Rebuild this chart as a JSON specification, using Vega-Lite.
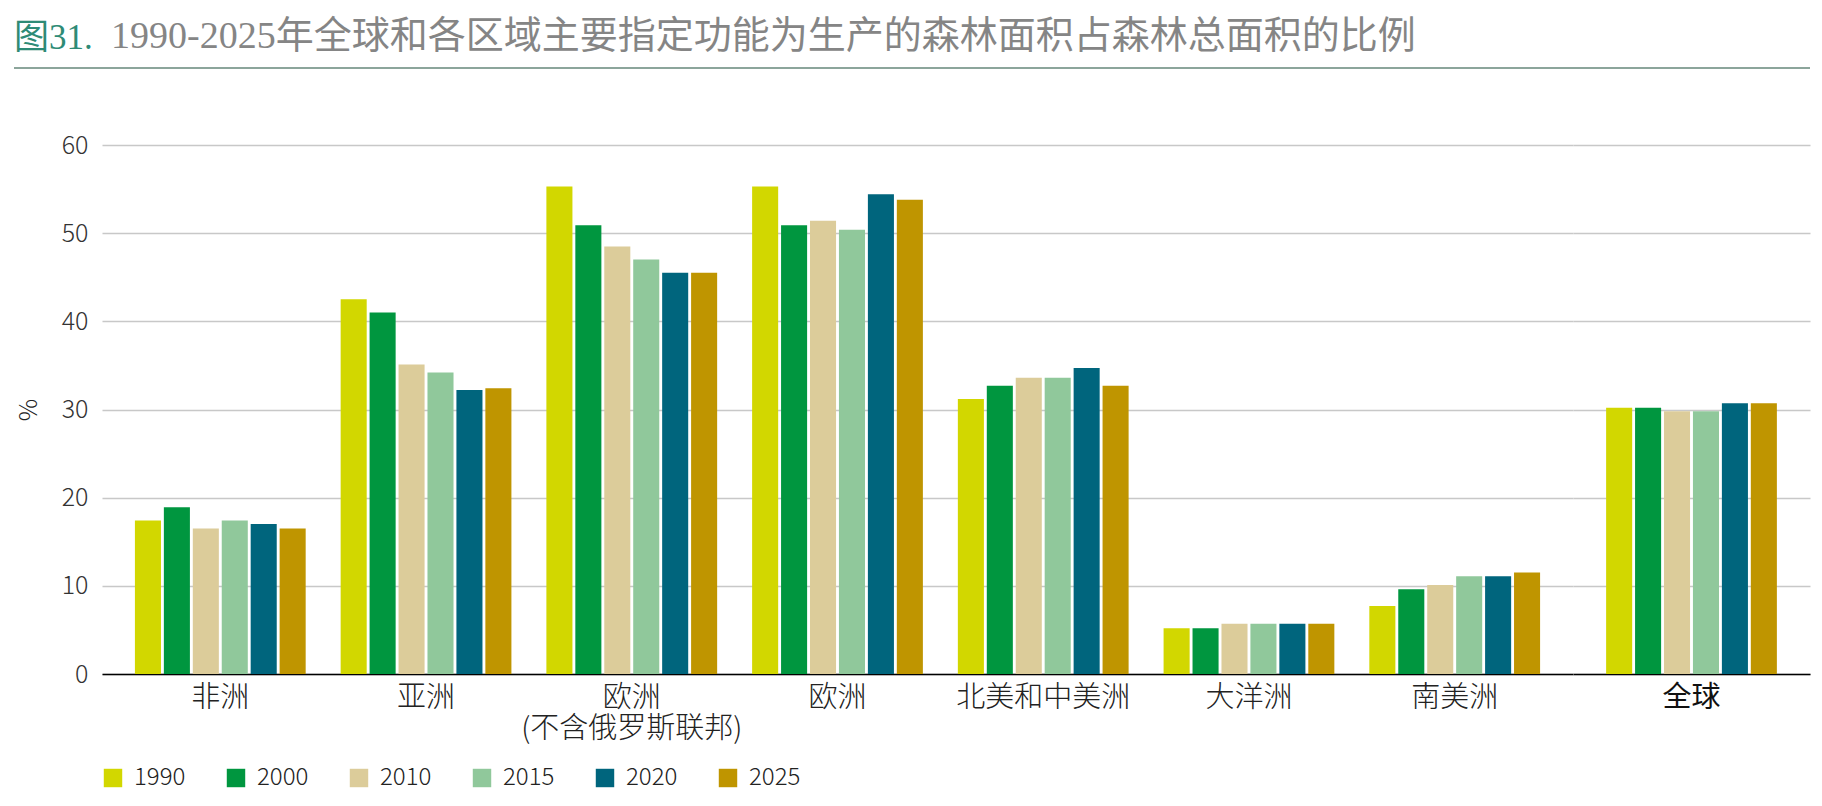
{
  "$schema": "https://vega.github.io/schema/vega-lite/v6.json",
  "padding": {"left": 14, "top": 18, "right": 12, "bottom": 10},
  "background": "white",
  "config": {
    "font": "Noto Sans CJK SC",
    "view": {"stroke": null},
    "title": {"font": "Liberation Serif, Noto Sans CJK SC", "fontWeight": "normal", "fontSize": 36, "anchor": "start", "offset": 11},
    "axis": {"labelFont": "Noto Sans CJK SC", "titleFont": "Noto Sans CJK SC"},
    "legend": {"labelFont": "Noto Sans CJK SC"}
  },
  "datasets": {
    "main": [
      {"region": "非洲", "year": "1990", "value": 17.4},
      {"region": "非洲", "year": "2000", "value": 18.9},
      {"region": "非洲", "year": "2010", "value": 16.5},
      {"region": "非洲", "year": "2015", "value": 17.4},
      {"region": "非洲", "year": "2020", "value": 17.0},
      {"region": "非洲", "year": "2025", "value": 16.5},
      {"region": "亚洲", "year": "1990", "value": 42.5},
      {"region": "亚洲", "year": "2000", "value": 41.0},
      {"region": "亚洲", "year": "2010", "value": 35.1},
      {"region": "亚洲", "year": "2015", "value": 34.2},
      {"region": "亚洲", "year": "2020", "value": 32.2},
      {"region": "亚洲", "year": "2025", "value": 32.4},
      {"region": "欧洲(不含俄罗斯联邦)", "year": "1990", "value": 55.3},
      {"region": "欧洲(不含俄罗斯联邦)", "year": "2000", "value": 50.9},
      {"region": "欧洲(不含俄罗斯联邦)", "year": "2010", "value": 48.5},
      {"region": "欧洲(不含俄罗斯联邦)", "year": "2015", "value": 47.0},
      {"region": "欧洲(不含俄罗斯联邦)", "year": "2020", "value": 45.5},
      {"region": "欧洲(不含俄罗斯联邦)", "year": "2025", "value": 45.5},
      {"region": "欧洲", "year": "1990", "value": 55.3},
      {"region": "欧洲", "year": "2000", "value": 50.9},
      {"region": "欧洲", "year": "2010", "value": 51.4},
      {"region": "欧洲", "year": "2015", "value": 50.4},
      {"region": "欧洲", "year": "2020", "value": 54.4},
      {"region": "欧洲", "year": "2025", "value": 53.8},
      {"region": "北美和中美洲", "year": "1990", "value": 31.2},
      {"region": "北美和中美洲", "year": "2000", "value": 32.7},
      {"region": "北美和中美洲", "year": "2010", "value": 33.6},
      {"region": "北美和中美洲", "year": "2015", "value": 33.6},
      {"region": "北美和中美洲", "year": "2020", "value": 34.7},
      {"region": "北美和中美洲", "year": "2025", "value": 32.7},
      {"region": "大洋洲", "year": "1990", "value": 5.2},
      {"region": "大洋洲", "year": "2000", "value": 5.2},
      {"region": "大洋洲", "year": "2010", "value": 5.7},
      {"region": "大洋洲", "year": "2015", "value": 5.7},
      {"region": "大洋洲", "year": "2020", "value": 5.7},
      {"region": "大洋洲", "year": "2025", "value": 5.7},
      {"region": "南美洲", "year": "1990", "value": 7.7},
      {"region": "南美洲", "year": "2000", "value": 9.6},
      {"region": "南美洲", "year": "2010", "value": 10.1},
      {"region": "南美洲", "year": "2015", "value": 11.1},
      {"region": "南美洲", "year": "2020", "value": 11.1},
      {"region": "南美洲", "year": "2025", "value": 11.5},
      {"region": "全球", "year": "1990", "value": 30.2},
      {"region": "全球", "year": "2000", "value": 30.2},
      {"region": "全球", "year": "2010", "value": 29.8},
      {"region": "全球", "year": "2015", "value": 29.8},
      {"region": "全球", "year": "2020", "value": 30.7},
      {"region": "全球", "year": "2025", "value": 30.7}
    ]
  },
  "spacing": 64,
  "vconcat": [
    {
      "spacing": 0,
      "bounds": "flush",
      "hconcat": [
        {
          "title": {"text": "图31.", "color": "#2e8b76", "fontSize": 35},
          "width": 97,
          "height": 2,
          "data": {"values": []},
          "mark": "rule",
          "encoding": {},
          "view": {"fill": "#8ca59b", "stroke": null}
        },
        {
          "title": {"text": "1990-2025年全球和各区域主要指定功能为生产的森林面积占森林总面积的比例", "color": "#858585", "fontSize": 38},
          "width": 1699,
          "height": 2,
          "data": {"values": []},
          "mark": "rule",
          "encoding": {},
          "view": {"fill": "#8ca59b", "stroke": null}
        }
      ]
    },
    {
      "spacing": 0,
      "resolve": {"scale": {"x": "independent", "xOffset": "independent", "y": "shared", "color": "shared"}},
      "hconcat": [
        {
          "width": 88,
          "height": 529,
          "data": {"name": "main"},
          "mark": {"type": "point", "opacity": 0},
          "encoding": {
            "y": {
              "field": "value", "type": "quantitative",
              "scale": {"domain": [0, 60], "nice": false},
              "axis": {
                "offset": -88,
                "title": "%", "titleFontSize": 25, "titleFontWeight": 300, "titleColor": "#222222", "titlePadding": 20,
                "values": [0, 10, 20, 30, 40, 50, 60],
                "domain": false, "ticks": false, "grid": false,
                "labelFontSize": 25, "labelFontWeight": 300, "labelColor": "#333333", "labelPadding": 14
              }
            }
          }
        },
        {
          "width": 1471,
          "height": 529,
          "data": {"name": "main"},
          "transform": [{"filter": "datum.region != '全球'"}],
          "mark": {"type": "bar"},
          "encoding": {
            "x": {
              "field": "region", "type": "nominal",
              "sort": ["非洲", "亚洲", "欧洲(不含俄罗斯联邦)", "欧洲", "北美和中美洲", "大洋洲", "南美洲"],
              "scale": {"paddingInner": 0.17, "paddingOuter": 0.16},
              "axis": {
                "title": null, "labelAngle": 0, "ticks": false, "grid": false,
                "domainColor": "#000000", "domainWidth": 1.6,
                "labelFontSize": 29, "labelFontWeight": 300, "labelColor": "#222222", "labelPadding": 9, "labelLineHeight": 31, "labelLimit": 400,
                "labelExpr": "datum.value == '欧洲(不含俄罗斯联邦)' ? ['欧洲', '(不含俄罗斯联邦)'] : datum.value"
              }
            },
            "xOffset": {"field": "year", "type": "nominal", "scale": {"paddingInner": 0.1, "paddingOuter": 0}},
            "y": {
              "field": "value", "type": "quantitative",
              "scale": {"domain": [0, 60], "nice": false},
              "axis": {
                "title": null, "labels": false, "domain": false, "ticks": false,
                "values": [0, 10, 20, 30, 40, 50, 60],
                "grid": true, "gridColor": "#c8c8c8", "gridWidth": 1.3, "minExtent": 0, "maxExtent": 0
              }
            },
            "color": {
              "field": "year", "type": "nominal",
              "scale": {"domain": ["1990", "2000", "2010", "2015", "2020", "2025"], "range": ["#d2d700", "#00963f", "#dccc9a", "#90c89b", "#00657d", "#bf9500"]},
              "legend": {
                "title": null, "orient": "none", "legendX": 87, "legendY": 699, "direction": "horizontal",
                "symbolType": "square", "symbolSize": 340, "symbolStrokeWidth": 0,
                "labelFontSize": 24, "labelFontWeight": 300, "labelColor": "#222222", "labelOffset": 9, "columnPadding": 38
              }
            }
          }
        },
        {
          "width": 237,
          "height": 529,
          "data": {"name": "main"},
          "transform": [{"filter": "datum.region == '全球'"}],
          "mark": {"type": "bar"},
          "encoding": {
            "x": {
              "field": "region", "type": "nominal",
              "scale": {"paddingInner": 0.17, "paddingOuter": 0.161},
              "axis": {
                "title": null, "labelAngle": 0, "ticks": false, "grid": false,
                "domainColor": "#000000", "domainWidth": 1.6,
                "labelFontSize": 29, "labelFontWeight": "normal", "labelColor": "#111111", "labelPadding": 9
              }
            },
            "xOffset": {"field": "year", "type": "nominal", "scale": {"paddingInner": 0.1, "paddingOuter": 0}},
            "y": {
              "field": "value", "type": "quantitative",
              "scale": {"domain": [0, 60], "nice": false},
              "axis": {
                "title": null, "labels": false, "domain": false, "ticks": false,
                "values": [0, 10, 20, 30, 40, 50, 60],
                "grid": true, "gridColor": "#c8c8c8", "gridWidth": 1.3, "minExtent": 0, "maxExtent": 0
              }
            },
            "color": {"field": "year", "type": "nominal"}
          }
        }
      ]
    }
  ]
}
